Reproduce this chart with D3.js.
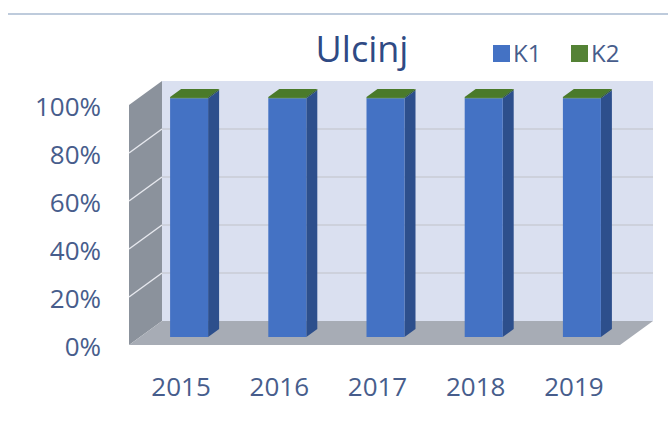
<!DOCTYPE html>
<html>
<head>
<meta charset="utf-8">
<script src="https://cdn.jsdelivr.net/npm/d3@7"></script>
<style>
  html, body { margin: 0; padding: 0; background: #fff; }
  svg { display: block; font-family: "Open Sans", sans-serif; }
</style>
</head>
<body>
<div id="chart"></div>
<script>
// chart data
const years = ["2015", "2016", "2017", "2018", "2019"];
const k1 = [99.5, 99.5, 99.5, 99.5, 99.5];
const k2 = [0.5, 0.5, 0.5, 0.5, 0.5];
const yTicks = [0, 20, 40, 60, 80, 100];
const seriesNames = ["K1", "K2"];

const width = 668, height = 421;
const depthX = 33, depthY = -24;   // 3D offset of back wall

const colors = {
  K1: { front: "#4472c4", side: "#2d4f8c", top: "#5b86d4" },
  K2: { front: "#548235", side: "#3a5e24", top: "#4a7a2a" }
};
const textColor = "#475d8c";

const svg = d3.select("#chart").append("svg")
  .attr("width", width)
  .attr("height", height);

// front plane scales
const x = d3.scaleBand().domain(years).range([129, 620]);
const y = d3.scaleLinear().domain([0, 100]).range([345, 105]);

// project a point at depth z (0 = front, 1 = back)
function p(px, py, z) {
  return [px + z * depthX, py + z * depthY];
}
function poly(pts) {
  return pts.map(d => d.join(",")).join(" ");
}

// top rule
svg.append("line")
  .attr("x1", 8).attr("x2", width)
  .attr("y1", 14).attr("y2", 14)
  .attr("stroke", "#a9bad0").attr("stroke-width", 1.5);

const x0 = x.range()[0], x1 = x.range()[1];

// back wall
svg.append("polygon")
  .attr("points", poly([p(x0, y(100), 1), p(x1, y(100), 1), p(x1, y(0), 1), p(x0, y(0), 1)]))
  .attr("fill", "#dae0f0");

// side wall
svg.append("polygon")
  .attr("points", poly([p(x0, y(0), 0), p(x0, y(100), 0), p(x0, y(100), 1), p(x0, y(0), 1)]))
  .attr("fill", "#8b929c");

// floor
svg.append("polygon")
  .attr("points", poly([p(x0, y(0), 0), p(x1, y(0), 0), p(x1, y(0), 1), p(x0, y(0), 1)]))
  .attr("fill", "#a7acb5");

// gridlines
const grid = yTicks.filter(t => t > 0 && t < 100);
svg.append("g").selectAll("line")
  .data(grid)
  .join("line")
  .attr("x1", x0 + depthX).attr("x2", x1 + depthX)
  .attr("y1", d => y(d) + depthY).attr("y2", d => y(d) + depthY)
  .attr("stroke", "#c8ccd6").attr("stroke-width", 1.5);
svg.append("g").selectAll("line")
  .data(grid)
  .join("line")
  .attr("x1", x0).attr("y1", d => y(d))
  .attr("x2", x0 + depthX).attr("y2", d => y(d) + depthY)
  .attr("stroke", "#e6e8ee").attr("stroke-width", 1.5);

// stacked bars
const table = years.map((yr, i) => ({ year: yr, K1: k1[i], K2: k2[i] }));
const stacked = d3.stack().keys(seriesNames)(table);

const barW = 38, zFront = 1 / 3, zBack = 2 / 3;
const bars = svg.append("g");
table.forEach((row, i) => {
  const cx = x(row.year) + x.bandwidth() / 2;
  const l = cx - barW / 2, r = cx + barW / 2;
  stacked.forEach(s => {
    const lo = s[i][0], hi = s[i][1];
    const c = colors[s.key];
    const g = bars.append("g");
    g.append("polygon")
      .attr("points", poly([p(r, y(lo), zFront), p(r, y(hi), zFront), p(r, y(hi), zBack), p(r, y(lo), zBack)]))
      .attr("fill", c.side);
    g.append("polygon")
      .attr("points", poly([p(l, y(hi), zFront), p(r, y(hi), zFront), p(r, y(hi), zBack), p(l, y(hi), zBack)]))
      .attr("fill", c.top);
    g.append("polygon")
      .attr("points", poly([p(l, y(lo), zFront), p(r, y(lo), zFront), p(r, y(hi), zFront), p(l, y(hi), zFront)]))
      .attr("fill", c.front);
  });
});

// y axis labels
const yAxis = d3.axisLeft(y).tickValues(yTicks).tickFormat(d => d + "%").tickSize(0).tickPadding(0);
svg.append("g")
  .attr("transform", "translate(101,2)")
  .call(yAxis)
  .call(g => g.select(".domain").remove())
  .selectAll("text")
  .attr("font-family", "Open Sans, sans-serif")
  .attr("font-size", 26)
  .attr("fill", textColor);

// x axis labels
const xAxis = d3.axisBottom(x).tickSize(0).tickPadding(0);
svg.append("g")
  .attr("transform", "translate(3,378)")
  .call(xAxis)
  .call(g => g.select(".domain").remove())
  .selectAll("text")
  .attr("font-family", "Open Sans, sans-serif")
  .attr("font-size", 26)
  .attr("fill", textColor);

// title
svg.append("text")
  .attr("x", 362).attr("y", 62)
  .attr("text-anchor", "middle")
  .attr("font-size", 36)
  .attr("fill", "#2f4a84")
  .text("Ulcinj");

// legend
const legend = svg.append("g").selectAll("g")
  .data(seriesNames)
  .join("g")
  .attr("transform", (d, i) => `translate(${493 + i * 78},45)`);
legend.append("rect")
  .attr("width", 17).attr("height", 17)
  .attr("fill", d => colors[d].front);
legend.append("text")
  .attr("x", 20).attr("y", 17)
  .attr("font-size", 24)
  .attr("fill", textColor)
  .text(d => d);
</script>
</body>
</html>
